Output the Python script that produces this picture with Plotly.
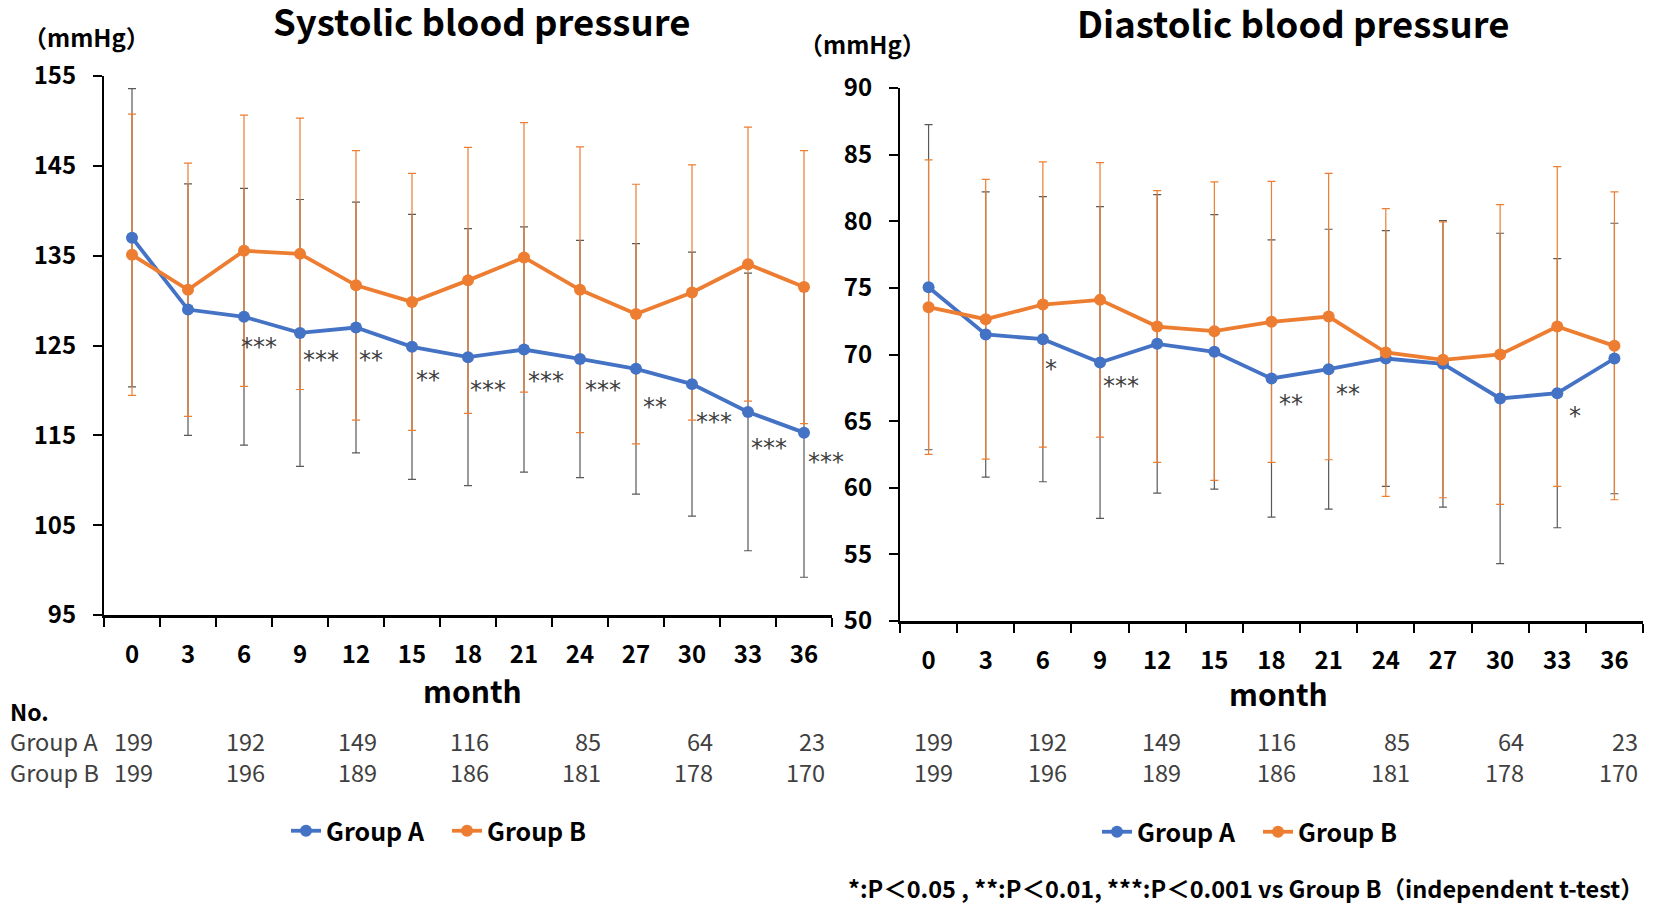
import plotly.graph_objects as go

# ---------------- data ----------------
months = [0, 3, 6, 9, 12, 15, 18, 21, 24, 27, 30, 33, 36]
month_labels = [str(m) for m in months]

sys_a = [137.0, 129.0, 128.2, 126.4, 127.0, 124.85, 123.7, 124.55, 123.5, 122.4, 120.7, 117.6, 115.3]
sys_a_sd = [16.6, 14.0, 14.3, 14.85, 13.95, 14.75, 14.3, 13.65, 13.2, 13.95, 14.7, 15.45, 16.1]
sys_b = [135.1, 131.2, 135.55, 135.2, 131.7, 129.85, 132.25, 134.8, 131.2, 128.5, 130.9, 134.05, 131.5]
sys_b_sd = [15.65, 14.1, 15.1, 15.1, 15.0, 14.3, 14.8, 15.0, 15.9, 14.45, 14.2, 15.25, 15.2]

dia_a = [75.05, 71.5, 71.15, 69.4, 70.8, 70.2, 68.2, 68.9, 69.7, 69.3, 66.7, 67.1, 69.7]
dia_a_sd = [12.2, 10.7, 10.7, 11.7, 11.2, 10.3, 10.4, 10.5, 9.6, 10.75, 12.4, 10.1, 10.15]
dia_b = [73.55, 72.65, 73.75, 74.1, 72.1, 71.75, 72.45, 72.85, 70.15, 69.6, 70.0, 72.1, 70.65]
dia_b_sd = [11.05, 10.5, 10.7, 10.3, 10.2, 11.2, 10.55, 10.75, 10.8, 10.35, 11.25, 12.0, 11.55]

table_months = [0, 6, 12, 18, 24, 30, 36]
n_group_a = [199, 192, 149, 116, 85, 64, 23]
n_group_b = [199, 196, 189, 186, 181, 178, 170]

sys_sig_months = [6, 9, 12, 15, 18, 21, 24, 27, 30, 33, 36]
sys_sig_labels = ["***", "***", "**", "**", "***", "***", "***", "**", "***", "***", "***"]
sys_sig_y = [124.85, 123.4, 123.4, 121.2, 120.0, 121.0, 120.0, 118.2, 116.5, 113.55, 112.0]
sys_sig_dx = [0.8, 1.13, 0.82, 0.88, 1.05, 1.19, 1.22, 1.0, 1.19, 1.13, 1.2]

dia_sig_months = [6, 9, 18, 21, 33]
dia_sig_labels = ["*", "***", "**", "**", "*"]
dia_sig_y = [68.9, 67.65, 66.25, 67.0, 65.4]
dia_sig_dx = [0.43, 1.1, 1.04, 1.0, 0.95]

# ---------------- style ----------------
FONT = "Noto Sans CJK JP"
STARFONT = "DejaVu Sans"
BLUE = "#4472C4"
ORANGE = "#ED7D31"
GREY = "#595959"
TXT = "#404040"
W, H = 1658, 904
OFF = 8  # page body margin


def px(x):
    return (x - OFF) / W


def py(y):
    return 1 - (y - OFF) / H


fig = go.Figure()

panels = [
    dict(xa="x", ya="y", a=sys_a, asd=sys_a_sd, b=sys_b, bsd=sys_b_sd, legend="legend"),
    dict(xa="x2", ya="y2", a=dia_a, asd=dia_a_sd, b=dia_b, bsd=dia_b_sd, legend="legend2"),
]

for p in panels:
    for vals, sd, col in ((p["a"], p["asd"], GREY), (p["b"], p["bsd"], ORANGE)):
        fig.add_trace(go.Scatter(
            x=months, y=vals, mode="markers",
            marker=dict(size=1, opacity=0),
            error_y=dict(type="data", array=sd, color=col, thickness=1.2, width=4),
            xaxis=p["xa"], yaxis=p["ya"], showlegend=False, hoverinfo="skip"))
    for vals, name, col in ((p["a"], "Group A", BLUE), (p["b"], "Group B", ORANGE)):
        fig.add_trace(go.Scatter(
            x=months, y=vals, mode="lines+markers", name=name,
            line=dict(color=col, width=3.8),
            marker=dict(size=12, color=col),
            xaxis=p["xa"], yaxis=p["ya"], legend=p["legend"]))

boundaries = [m - 1.5 for m in months] + [months[-1] + 1.5]


def xaxis_cfg(domain, anchor):
    return dict(
        domain=domain, anchor=anchor, range=[-1.5, 37.5], automargin=False,
        tickmode="array", tickvals=months, ticktext=month_labels, ticks="",
        showline=True, linecolor="black", linewidth=2.5,
        showgrid=False, zeroline=False,
        tickfont=dict(family=FONT, size=24, color="black", weight="bold"),
        ticklabelstandoff=16,
        minor=dict(tickmode="array", tickvals=boundaries, ticks="outside",
                   ticklen=9, tickwidth=2, tickcolor="black", showgrid=False),
    )


def yaxis_cfg(domain, anchor, rng, dt):
    return dict(
        domain=domain, anchor=anchor, range=rng, dtick=dt, tick0=rng[0], automargin=False,
        ticks="outside", ticklen=9, tickwidth=2, tickcolor="black",
        showline=True, linecolor="black", linewidth=2,
        showgrid=False, zeroline=False,
        tickfont=dict(family=FONT, size=24, color="black", weight="bold"),
        ticklabelstandoff=12,
    )


def note(text, x, y, size, color="black", bold=False, xanchor="center", family=FONT,
         xref="paper", yref="paper", xshift=0, align="center"):
    f = dict(family=family, size=size, color=color)
    if bold:
        f["weight"] = "bold"
    return dict(text=text, x=x, y=y, xref=xref, yref=yref, xanchor=xanchor, align=align,
                yanchor="middle", xshift=xshift, showarrow=False, font=f)


ann = []
ann.append(note("Systolic blood pressure", px(481), py(20), 36.5, bold=True))
ann.append(note("Diastolic blood pressure", px(1293), py(23), 36.5, bold=True))
ann.append(note("（mmHg）", px(86), py(37), 24, bold=True))
ann.append(note("（mmHg）", px(863), py(44), 24, bold=True))
ann.append(note("month", px(472), py(690), 30, bold=True))
ann.append(note("month", px(1278), py(693), 30, bold=True))
ann.append(note("No.", px(8), py(711), 23, bold=True, xanchor="left"))
ann.append(note("Group A<br>Group B", px(8), py(756), 23.5, color=TXT, xanchor="left", align="left"))
for xr, shift in (("x", 23), ("x2", 26)):
    for m, na, nb in zip(table_months, n_group_a, n_group_b):
        ann.append(note(f"{na}<br>{nb}", m, py(756), 23.5, color=TXT, xanchor="right",
                        xref=xr, xshift=shift, align="right"))
for m, lab, yy, dx in zip(sys_sig_months, sys_sig_labels, sys_sig_y, sys_sig_dx):
    ann.append(note(lab, m + dx, yy, 24, color=TXT, family=STARFONT, xref="x", yref="y"))
for m, lab, yy, dx in zip(dia_sig_months, dia_sig_labels, dia_sig_y, dia_sig_dx):
    ann.append(note(lab, m + dx, yy, 24, color=TXT, family=STARFONT, xref="x2", yref="y2"))
ann.append(note("*:P＜0.05 , **:P＜0.01, ***:P＜0.001 vs Group B（independent t-test）",
                px(1646), py(888), 23.5, bold=True, xanchor="right"))

legend_font = dict(family=FONT, size=25, color="black", weight="bold")
fig.update_layout(
    width=W, height=H,
    margin=dict(l=0, r=0, t=0, b=0, autoexpand=False),
    paper_bgcolor="white", plot_bgcolor="white",
    xaxis=xaxis_cfg([px(104), px(832)], "y"),
    yaxis=yaxis_cfg([py(615), py(76)], "x", [95, 155], 10),
    xaxis2=xaxis_cfg([px(900), px(1643)], "y2"),
    yaxis2=yaxis_cfg([py(621), py(88)], "x2", [50, 90], 5),
    legend=dict(orientation="h", x=px(286), y=py(831), xanchor="left", yanchor="middle",
                font=legend_font, bgcolor="rgba(0,0,0,0)", itemwidth=30,
                entrywidth=116, entrywidthmode="pixels"),
    legend2=dict(orientation="h", x=px(1097), y=py(832), xanchor="left", yanchor="middle",
                 font=legend_font, bgcolor="rgba(0,0,0,0)", itemwidth=30,
                 entrywidth=116, entrywidthmode="pixels"),
    annotations=ann,
    showlegend=True,
)

fig.write_html("out.html")
